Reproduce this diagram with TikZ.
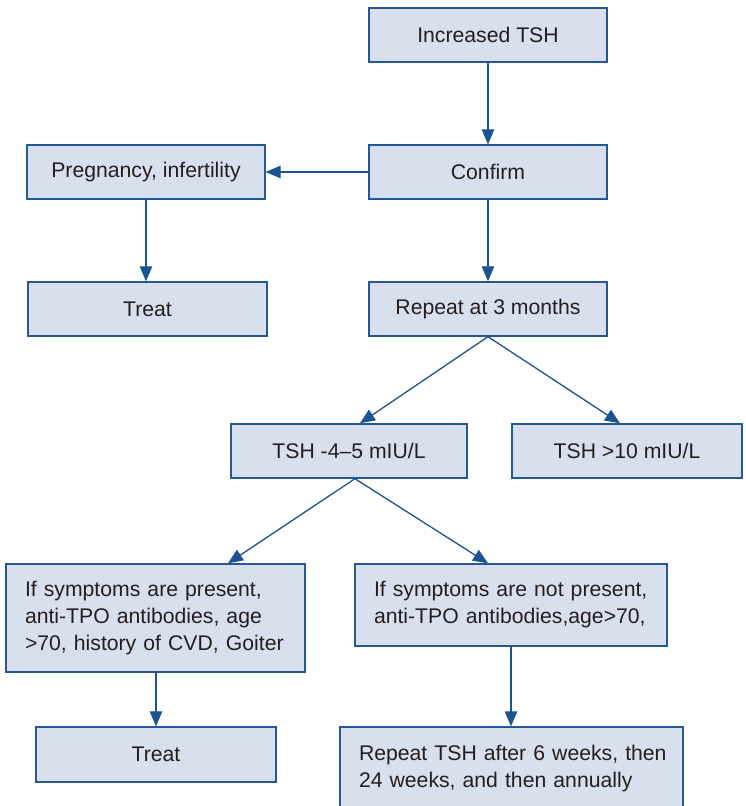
\documentclass[tikz,border=0pt]{standalone}
\usepackage{fontspec}
\setmainfont{Liberation Sans}
\usetikzlibrary{arrows.meta,positioning}
\definecolor{boxfill}{RGB}{217,224,237}
\definecolor{boxdraw}{RGB}{40,88,148}
\definecolor{arrowc}{RGB}{28,84,147}
\definecolor{txt}{RGB}{35,31,32}
\hbadness=10000 \hfuzz=20pt
\begin{document}
\begin{tikzpicture}[x=1pt,y=-1pt,
  bx/.style={draw=boxdraw,fill=boxfill,line width=1.4pt,text=txt,
    font=\fontsize{21.2}{27}\selectfont,inner sep=0pt,align=center},
  lbx/.style={bx,align=left,inner xsep=19pt},
  arr/.style={draw=arrowc,line width=1.3pt,-{Triangle[length=15pt,width=12.5pt]}}]
\clip (0,0) rectangle (746,806);
\fill[white] (0,0) rectangle (746,806);
\node[bx,minimum width=238pt,minimum height=54pt] (inc) at (488,35) {Increased TSH};
\node[bx,minimum width=238pt,minimum height=54pt] (conf) at (488,172) {Confirm};
\node[bx,minimum width=238pt,minimum height=54pt] (preg) at (146,172) {Pregnancy, infertility};
\node[bx,minimum width=239pt,minimum height=54pt] (treat1) at (147.5,309) {Treat};
\node[bx,minimum width=238pt,minimum height=54pt] (rep3) at (488,309) {Repeat at 3 months};
\node[bx,minimum width=236pt,minimum height=54pt] (tsh45) at (349,451) {TSH -4–5 mIU/L};
\node[bx,minimum width=230pt,minimum height=54pt] (tsh10) at (627,451) {TSH >10 mIU/L};
\node[lbx,text width=261pt,minimum height=108pt] (sympt) at (155.5,618)
  {\mbox{If symptoms are present,}\\\mbox{anti-TPO antibodies, age}\\\mbox{>70, history of CVD, Goiter}};
\node[lbx,text width=274pt,minimum height=82pt] (nosympt) at (511,605)
  {\mbox{If symptoms are not present,}\\\mbox{anti-TPO antibodies,age>70,}};
\node[bx,minimum width=240pt,minimum height=55pt] (treat2) at (156,754.5) {Treat};
\node[lbx,text width=305pt,minimum height=83pt] (reptsh) at (511.5,768.5)
  {\mbox{Repeat TSH after 6 weeks, then}\\\mbox{24 weeks, and then annually}};
\draw[arr] (inc.south) -- (conf.north);
\draw[arr] (conf.west) -- (preg.east);
\draw[arr] (conf.south) -- (rep3.north);
\draw[arr] (preg.south) -- (preg.south |- treat1.north);
\draw[arr] (rep3.south) -- ([xshift=11pt]tsh45.north);
\draw[arr] (rep3.south) -- ([xshift=-7pt]tsh10.north);
\draw[arr] ([xshift=6pt]tsh45.south) -- ([xshift=72.5pt]sympt.north);
\draw[arr] ([xshift=6pt]tsh45.south) -- ([xshift=-23pt]nosympt.north);
\draw[arr] (sympt.south -| treat2.north) -- (treat2.north);
\draw[arr] (nosympt.south) -- (nosympt.south |- reptsh.north);
\end{tikzpicture}
\end{document}
